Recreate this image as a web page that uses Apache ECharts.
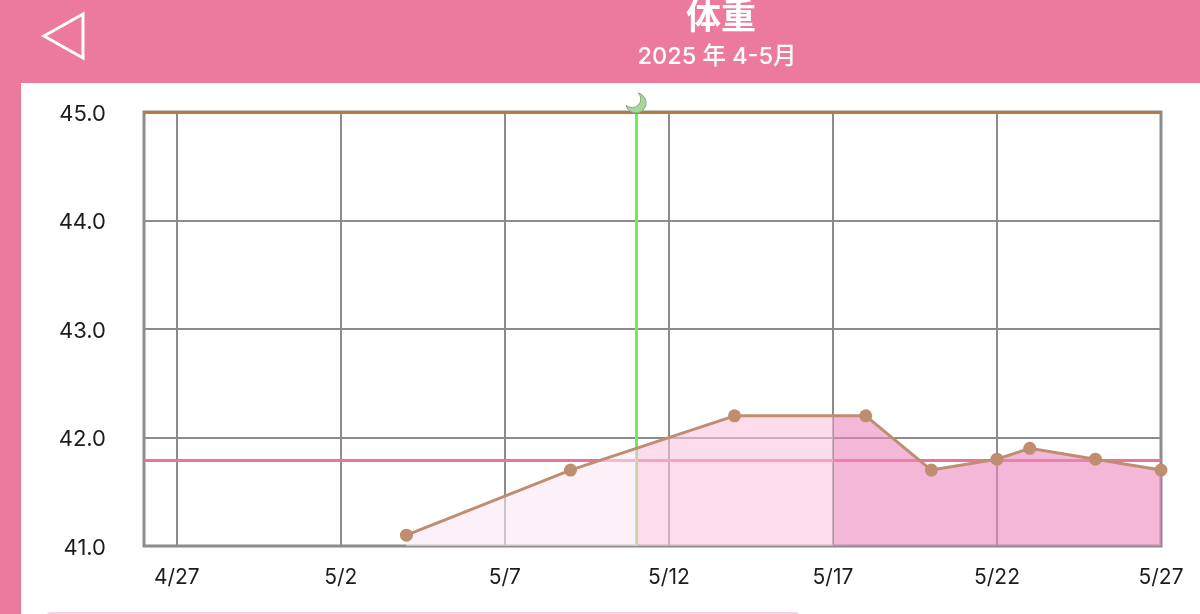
<!DOCTYPE html>
<html><head><meta charset="utf-8">
<style>html,body{margin:0;padding:0;background:#fff}#c{width:1200px;height:614px}</style>
<script src="https://cdn.jsdelivr.net/npm/echarts@6/dist/echarts.min.js"></script>
</head><body><div id="c"></div>
<script>
const categories = ['4/26','4/27','4/28','4/29','4/30','5/1','5/2','5/3','5/4','5/5','5/6','5/7','5/8','5/9','5/10','5/11','5/12','5/13','5/14','5/15','5/16','5/17','5/18','5/19','5/20','5/21','5/22','5/23','5/24','5/25','5/26','5/27'];
const weights = [null,null,null,null,null,null,null,null,41.1,null,null,null,null,41.7,null,null,null,null,42.2,null,null,null,42.2,null,41.7,null,41.8,41.9,null,41.8,null,41.7];
const yTicks = [41,42,43,44,45];
const meanWeight = 41.79;
const ceilingWeight = 45;
const moonDate = '5/11';
const bandEdgeDate = '5/17';
const firstDate = '5/4';
const lastDate = '5/27';
const titleText = '体重';
const subtitleText = '2025 年 4-5月';

const FONT = 'Inter, Roboto, "Noto Sans CJK JP", sans-serif';
const first = categories.indexOf(firstDate), last = categories.indexOf(lastDate);
const s1 = (categories.indexOf(moonDate) - first) / (last - first);
const s2 = (categories.indexOf(bandEdgeDate) - first) / (last - first);
const LIGHT = 'rgba(250,230,245,0.6)', MID = 'rgba(250,197,223,0.6)', DARK = 'rgba(235,137,190,0.6)';
const onTick = (i) => (i - 1) % 5 === 0;

const chart = echarts.init(document.getElementById('c'), null, {renderer: 'canvas'});
chart.setOption({
  animation: false,
  backgroundColor: '#fff',
  title: [
    {text: titleText, left: 716, top: -7, textAlign: 'center',
     textStyle: {color: '#fff', fontSize: 35, fontWeight: 'bold', fontFamily: '"Noto Sans CJK JP", sans-serif'}},
    {text: subtitleText, left: 712, top: 40, textAlign: 'center',
     textStyle: {color: '#fff', fontSize: 23.5, fontWeight: 500, fontFamily: FONT}}
  ],
  graphic: [
    {type: 'rect', silent: true, z: -1, shape: {x: 0, y: 0, width: 1200, height: 83}, style: {fill: '#ec7a9b'}},
    {type: 'rect', silent: true, z: -1, shape: {x: 0, y: 83, width: 21, height: 531}, style: {fill: '#ec7a9b'}},
    {type: 'rect', silent: true, z: -1, shape: {x: 46, y: 612, width: 754, height: 10, r: 5}, style: {fill: '#f7cfe6'}},
    {type: 'polygon', silent: true, z: 5, shape: {points: [[44, 36], [83, 14], [83, 58]]},
     style: {fill: 'transparent', stroke: '#fff', lineWidth: 3}}
  ],
  grid: {left: 144, right: 39, top: 112, bottom: 68, show: true, borderColor: '#8c8c8c', borderWidth: 3, backgroundColor: 'transparent'},
  xAxis: {
    type: 'category', data: categories, boundaryGap: false,
    axisLine: {show: false},
    axisTick: {show: false},
    axisLabel: {interval: onTick, color: '#1c1c1c', fontSize: 21, margin: 21, fontFamily: FONT},
    splitLine: {show: true, interval: onTick, lineStyle: {color: '#8c8c8c', width: 2}}
  },
  yAxis: {
    type: 'value', min: yTicks[0], max: yTicks[yTicks.length - 1], interval: 1,
    axisLine: {show: false},
    axisTick: {show: false},
    axisLabel: {color: '#1c1c1c', fontSize: 22, margin: 38, verticalAlign: 'top', lineHeight: 4, fontFamily: FONT, formatter: (v) => v.toFixed(1)},
    splitLine: {show: true, lineStyle: {color: '#8c8c8c', width: 2}}
  },
  series: [
    {
      type: 'line', z: 1, data: [], silent: true, symbol: 'none',
      markLine: {
        z: 1, silent: true, symbol: 'none', animation: false, label: {show: false},
        data: [
          {yAxis: meanWeight, lineStyle: {color: '#e8739c', width: 3, type: 'solid'}},
          {xAxis: moonDate, lineStyle: {color: '#6cf04a', width: 3, type: 'solid'}},
          {yAxis: ceilingWeight, lineStyle: {color: '#b97a42', width: 3, type: 'solid'}}
        ]
      },
      markPoint: {
        silent: true, animation: false, label: {show: false},
        data: [{
          coord: [moonDate, ceilingWeight],
          symbol: 'path://M12 0 A10 10 0 1 1 0 12 A8 8 0 0 0 12 0 Z',
          symbolSize: 20, symbolOffset: [0, -9],
          itemStyle: {color: '#a9d69c', borderColor: '#86a87e', borderWidth: 1}
        }]
      }
    },
    {
      type: 'line', z: 3, data: weights, connectNulls: true, showAllSymbol: true,
      symbol: 'circle', symbolSize: 13,
      lineStyle: {color: '#bf8d70', width: 3},
      itemStyle: {color: '#bf8d70'},
      areaStyle: {
        opacity: 1,
        color: new echarts.graphic.LinearGradient(0, 0, 1, 0, [
          {offset: 0, color: LIGHT}, {offset: s1, color: LIGHT},
          {offset: s1, color: MID}, {offset: s2, color: MID},
          {offset: s2, color: DARK}, {offset: 1, color: DARK}
        ])
      }
    }
  ]
});
</script></body></html>
